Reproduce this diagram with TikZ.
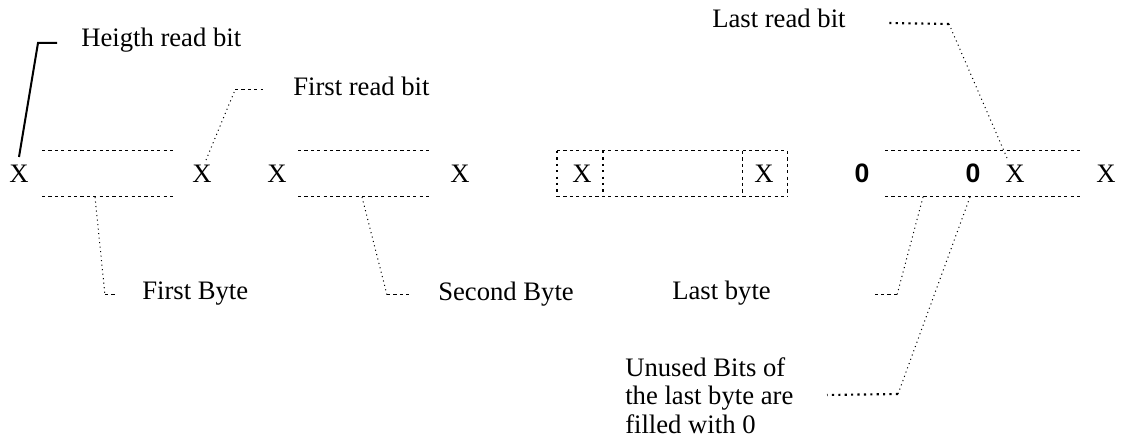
\documentclass[tikz,border=0pt]{standalone}
\usepackage{fontspec}
\setmainfont{Liberation Serif}
\newfontfamily\zerofont{Liberation Sans}
\begin{document}
\begin{tikzpicture}[x=0.75pt,y=-0.75pt,
  lbl/.style={inner sep=0pt,font=\fontsize{20}{21.5}\selectfont},
  bitx/.style={lbl,anchor=base},
  zero/.style={inner sep=0pt,anchor=base,font=\zerofont\bfseries\fontsize{20}{24}\selectfont},
  boxline/.style={line width=0.75pt,dash pattern=on 2.4pt off 2.4pt},
  thickdots/.style={line width=1.6pt,dash pattern=on 1.6pt off 3.2pt},
  leader/.style={line width=0.75pt,dash pattern=on 0.8pt off 2.6pt},
  shortdash/.style={line width=0.75pt,dash pattern=on 2.4pt off 2.4pt},
  solidlead/.style={line width=1.5pt}]
\useasboundingbox (0,0) rectangle (1121,441);

% texts
\node[lbl,anchor=base west] (heigth) at (81,47) {Heigth read bit};
\node[lbl,anchor=base west] (firstbit) at (293,96) {First read bit};
\node[lbl,anchor=base west] (lastbit) at (712,28) {Last read bit};
\node[lbl,anchor=base west] (firstbyte) at (142,300) {First Byte};
\node[lbl,anchor=base west] (secondbyte) at (438,301) {Second Byte};
\node[lbl,anchor=base west] (lastbyte) at (672,300) {Last byte};
\node[lbl,anchor=north west,align=left] (unused) at (625,357) {Unused Bits of\\the last byte are\\filled with 0};

% bits
\node[bitx] (x1) at (19,183) {X};
\node[bitx] (x2) at (202,183) {X};
\node[bitx] (x3) at (277,183) {X};
\node[bitx] (x4) at (460,183) {X};
\node[bitx] (x5) at (582,183) {X};
\node[bitx] (x6) at (764,183) {X};
\node[zero] (z1) at (862,183) {0};
\node[zero] (z2) at (973,183) {0};
\node[bitx] (x7) at (1015,183) {X};
\node[bitx] (x8) at (1106,183) {X};

% box corners
\coordinate (b1tl) at (42,151);  \coordinate (b1tr) at (173,151);
\coordinate (b1bl) at (42,197);  \coordinate (b1br) at (173,197);
\coordinate (b2tl) at (298,151); \coordinate (b2tr) at (432,151);
\coordinate (b2bl) at (298,197); \coordinate (b2br) at (432,197);
\coordinate (l1) at (557,151); \coordinate (l1b) at (557,197);
\coordinate (l2) at (603,151); \coordinate (l2b) at (603,197);
\coordinate (l3) at (742,151); \coordinate (l3b) at (742,197);
\coordinate (l4) at (787,151); \coordinate (l4b) at (787,197);
\coordinate (e1) at (885,151); \coordinate (e1b) at (885,197);
\coordinate (e2) at (1080,151); \coordinate (e2b) at (1080,197);

\draw[boxline] (b1tl) -- (b1tr) (b1bl) -- (b1br);
\draw[boxline] (b2tl) -- (b2tr) (b2bl) -- (b2br);
\draw[boxline] (l1) -- (l4) (l1b) -- (l4b);
\draw[boxline] (l3) -- (l3b) (l4) -- (l4b);
\draw[thickdots] (l1) -- (l1b) (l2) -- (l2b);
\draw[boxline] (e1) -- (e2) (e1b) -- (e2b);

% leaders
\coordinate (h1) at (38,43); \coordinate (h2) at (57,43);
\draw[solidlead] (19,157) -- (h1) -- (h2);

\coordinate (f1) at (206,160); \coordinate (f2) at (235,90); \coordinate (f3) at (263,90);
\draw[leader] (f1) -- (f2);
\draw[shortdash] (f2) -- (f3);

\coordinate (fb0) at (95,197); \coordinate (fb1) at (105,295); \coordinate (fb2) at (117,295);
\draw[leader] (fb0) -- (fb1);
\draw[shortdash] (fb1) -- (fb2);

\coordinate (sb0) at (362,197); \coordinate (sb1) at (387,295); \coordinate (sb2) at (410,295);
\draw[leader] (sb0) -- (sb1);
\draw[shortdash] (sb1) -- (sb2);

\coordinate (lr0) at (1007,158); \coordinate (lr1) at (949,24); \coordinate (lr2) at (888,23);
\draw[leader] (lr0) -- (lr1);
\draw[thickdots] (lr1) -- (lr2);

\coordinate (lb0) at (923,197); \coordinate (lb1) at (897,295); \coordinate (lb2) at (872,295);
\draw[leader] (lb0) -- (lb1);
\draw[shortdash] (lb1) -- (lb2);

\coordinate (u0) at (970,197); \coordinate (u1) at (898,394); \coordinate (u2) at (827,395);
\draw[leader] (u0) -- (u1);
\draw[thickdots] (u1) -- (u2);
\end{tikzpicture}
\end{document}
